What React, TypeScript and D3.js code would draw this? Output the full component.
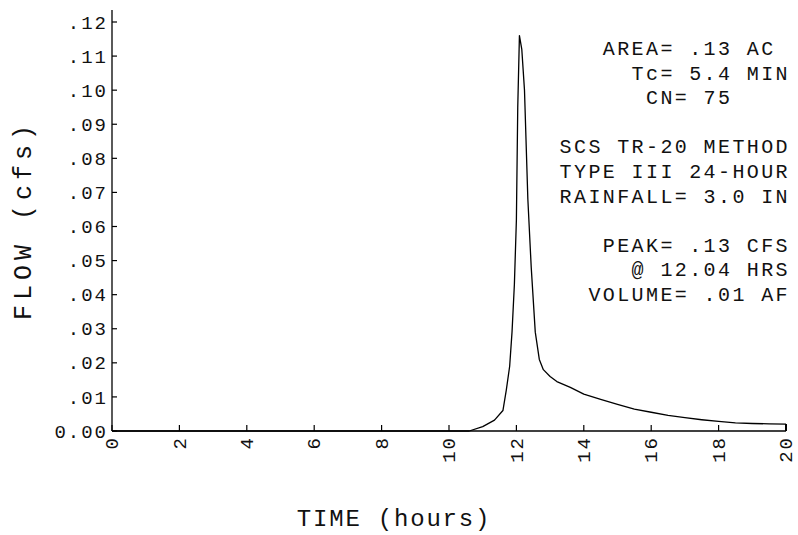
import React from "react";
import * as d3 from "d3";

// ---- data ----
const hours = [0, 1, 2, 3, 4, 5, 6, 7, 8, 9, 10, 10.6, 11.0, 11.35, 11.6, 11.7, 11.8, 11.87, 11.94, 12.0, 12.04, 12.09, 12.16, 12.24, 12.34, 12.44, 12.56, 12.68, 12.8, 13.0, 13.2, 13.6, 14.0, 14.5, 15.0, 15.5, 16.0, 16.5, 17.0, 17.5, 18.0, 18.5, 19.0, 19.5, 20.0];
const flows = [0, 0, 0, 0, 0, 0, 0, 0, 0, 0, 0, 0, 0.0013, 0.0032, 0.006, 0.012, 0.019, 0.029, 0.043, 0.062, 0.095, 0.116, 0.112, 0.1, 0.068, 0.048, 0.029, 0.021, 0.018, 0.016, 0.0145, 0.0128, 0.0108, 0.0093, 0.0078, 0.0064, 0.0055, 0.0046, 0.0039, 0.0033, 0.0028, 0.0024, 0.0022, 0.0021, 0.002];
const xTicks = [0, 2, 4, 6, 8, 10, 12, 14, 16, 18, 20];
const xTickLabels = ["0", "2", "4", "6", "8", "10", "12", "14", "16", "18", "20"];
const yTicks = [0, 0.01, 0.02, 0.03, 0.04, 0.05, 0.06, 0.07, 0.08, 0.09, 0.1, 0.11, 0.12];
const yTickLabels = ["0.00", ".01", ".02", ".03", ".04", ".05", ".06", ".07", ".08", ".09", ".10", ".11", ".12"];
const notes = ["AREA= .13 AC", "Tc= 5.4 MIN", "CN= 75", "SCS TR-20 METHOD", "TYPE III 24-HOUR", "RAINFALL= 3.0 IN", "PEAK= .13 CFS", "@ 12.04 HRS", "VOLUME= .01 AF"];
const xTitle = "TIME (hours)";
const yTitle = "FLOW (cfs)";

// ---- layout ----
const W = 798;
const H = 535;
const FONT = "'Liberation Mono', 'DejaVu Sans Mono', monospace";
const INK = "#111";
const SMALL = 20;
const SMALL_LS = 2.4;
const PITCH = SMALL * 0.6 + SMALL_LS;
const TICK_FS = 19;
const TICK_LS = 2;
const noteRow = [0, 1, 2, 4, 5, 6, 8, 9, 10];
const notePad = [1, 0, 4, 0, 0, 0, 0, 0, 0];
const NOTE_RIGHT = 790;
const NOTE_TOP = 48;
const NOTE_STEP = 24.6;

export default function App() {
  const x = d3.scaleLinear().domain([0, 20]).range([112, 786]);
  const y = d3.scaleLinear().domain([0, 0.12]).range([431, 22]);
  const pts: [number, number][] = hours.map((h, i) => [h, flows[i]]);
  const line = d3
    .line<[number, number]>()
    .x((d) => x(d[0]))
    .y((d) => y(d[1]));

  return (
    <svg
      width={W}
      height={H}
      viewBox={`0 0 ${W} ${H}`}
      style={{ position: "absolute", left: 0, top: 0, background: "#fff" }}
    >
      <rect x={0} y={0} width={W} height={H} fill="#fff" />
      {/* axes */}
      <line x1={x(0)} x2={x(0)} y1={y(0)} y2={y(0.1235)} stroke="#000" strokeWidth={1.3} />
      <line x1={x(0)} x2={x(20)} y1={y(0)} y2={y(0)} stroke="#000" strokeWidth={1.3} />
      {yTicks.map((t, i) => (
        <g key={"y" + i}>
          <line x1={x(0)} x2={x(0) + 5} y1={y(t)} y2={y(t)} stroke="#000" strokeWidth={1.2} />
          <text
            x={108}
            y={y(t)}
            dy="0.35em"
            textAnchor="end"
            fontFamily={FONT}
            fontSize={TICK_FS}
            letterSpacing={TICK_LS}
            fill={INK}
          >
            {yTickLabels[i]}
          </text>
        </g>
      ))}
      {xTicks.map((t, i) => (
        <g key={"x" + i}>
          <line x1={x(t)} x2={x(t)} y1={y(0)} y2={y(0) - (i === xTicks.length - 1 ? 7 : 6)} stroke="#000" strokeWidth={i === xTicks.length - 1 ? 2 : 1.2} />
          <text
            transform={`translate(${x(t)},${436}) rotate(-90)`}
            dy="0.33em"
            textAnchor="end"
            fontFamily={FONT}
            fontSize={TICK_FS}
            letterSpacing={TICK_LS}
            fill={INK}
          >
            {xTickLabels[i]}
          </text>
        </g>
      ))}
      {/* hydrograph */}
      <path d={line(pts) || ""} fill="none" stroke="#000" strokeWidth={1.3} strokeLinejoin="round" />
      {/* notes */}
      {notes.map((s, i) => (
        <text
          key={"n" + i}
          x={NOTE_RIGHT - (s.length + notePad[i]) * PITCH}
          y={NOTE_TOP + noteRow[i] * NOTE_STEP}
          dy="0.35em"
          fontFamily={FONT}
          fontSize={SMALL}
          letterSpacing={SMALL_LS}
          fill={INK}
        >
          {s}
        </text>
      ))}
      {/* titles */}
      <text
        x={394}
        y={518}
        dy="0.35em"
        textAnchor="middle"
        fontFamily={FONT}
        fontSize={24}
        letterSpacing={1.8}
        fill={INK}
      >
        {xTitle}
      </text>
      <text
        transform={`translate(22,220) rotate(-90)`}
        dy="0.35em"
        textAnchor="middle"
        fontFamily={FONT}
        fontSize={25}
        letterSpacing={5}
        fill={INK}
      >
        {yTitle}
      </text>
    </svg>
  );
}
